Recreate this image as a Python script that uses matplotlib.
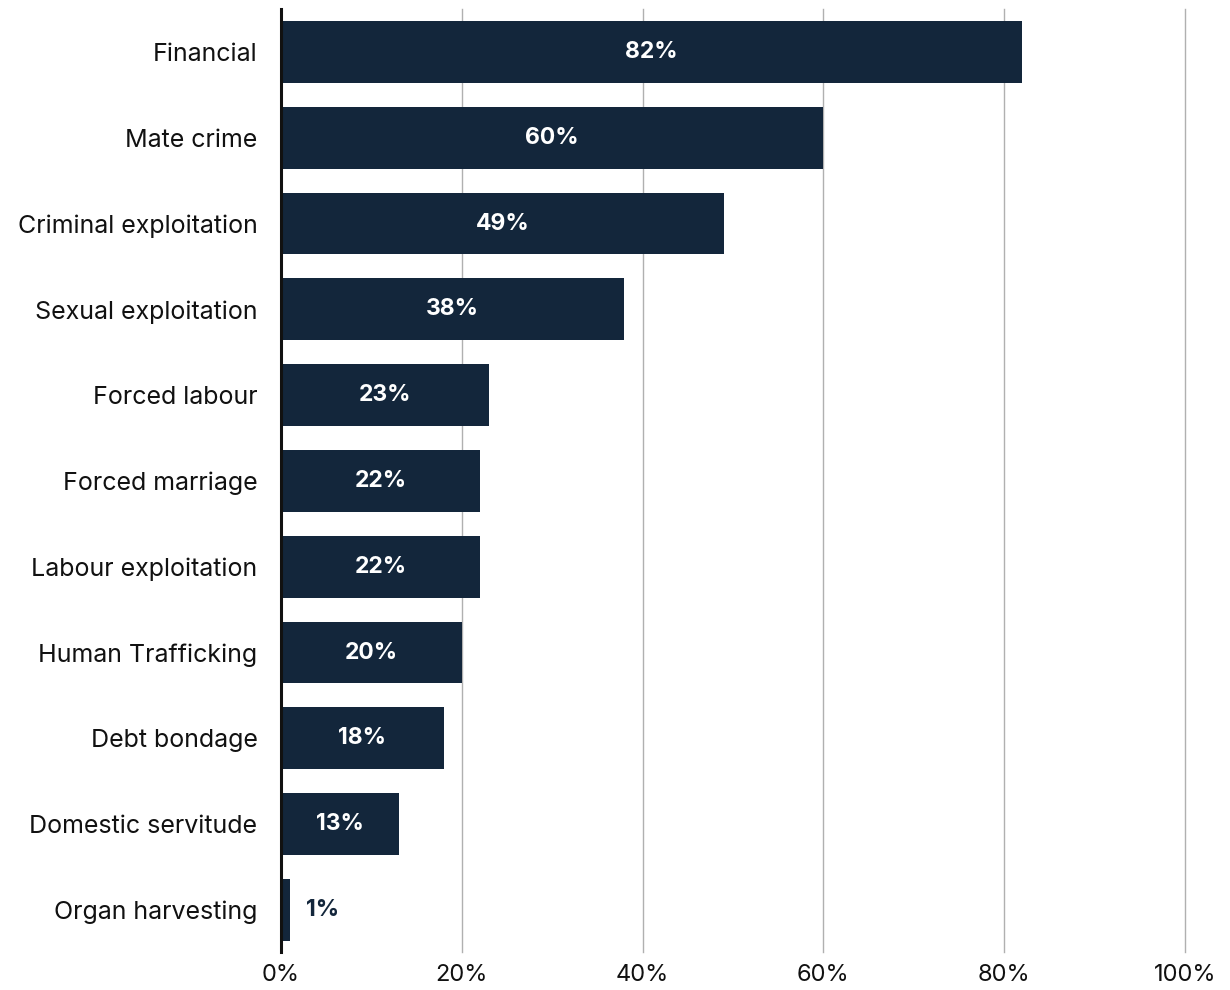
"""Horizontal bar chart of reported exploitation types."""

import matplotlib.pyplot as plt
from matplotlib.ticker import FuncFormatter

categories = [
    "Financial",
    "Mate crime",
    "Criminal exploitation",
    "Sexual exploitation",
    "Forced labour",
    "Forced marriage",
    "Labour exploitation",
    "Human Trafficking",
    "Debt bondage",
    "Domestic servitude",
    "Organ harvesting",
]
values = [82, 60, 49, 38, 23, 22, 22, 20, 18, 13, 1]
x_ticks = [0, 20, 40, 60, 80, 100]

BAR_COLOR = "#13263b"

plt.rcParams["font.family"] = ["Inter", "DejaVu Sans"]

fig = plt.figure(figsize=(12.3, 9.9), dpi=100)
ax = fig.add_axes([0.2285, 0.0384, 0.7347, 0.9525])

positions = list(range(len(categories)))
ax.barh(positions, values, height=0.72, color=BAR_COLOR, zorder=3)

for pos, val in zip(positions, values):
    if val >= 5:
        ax.text(val / 2, pos, f"{val}%", ha="center", va="center",
                color="white", fontsize=16.5, fontweight="bold", zorder=4)
    else:
        ax.text(val + 1.8, pos, f"{val}%", ha="left", va="center",
                color=BAR_COLOR, fontsize=16.5, fontweight="bold", zorder=4)

ax.set_xlim(0, 100)
ax.set_ylim(len(categories) - 0.51, -0.5)
ax.set_xticks(x_ticks)
ax.xaxis.set_major_formatter(FuncFormatter(lambda v, _: f"{v:.0f}%"))
ax.set_yticks(positions)
ax.set_yticklabels(categories)

ax.tick_params(axis="x", length=0, pad=9, labelsize=17, colors="#111111")
ax.tick_params(axis="y", length=0, pad=17, labelsize=18, colors="#111111")

ax.grid(axis="x", color="#b0b0b0", linewidth=1, zorder=0)
for line in ax.get_xgridlines():
    line.set_clip_on(False)
ax.grid(axis="y", visible=False)
for side in ("top", "right", "bottom"):
    ax.spines[side].set_visible(False)
ax.spines["left"].set_color("#111111")
ax.spines["left"].set_linewidth(2.2)
ax.spines["left"].set_zorder(5)

fig.savefig("out.png", dpi=100, facecolor="white")
